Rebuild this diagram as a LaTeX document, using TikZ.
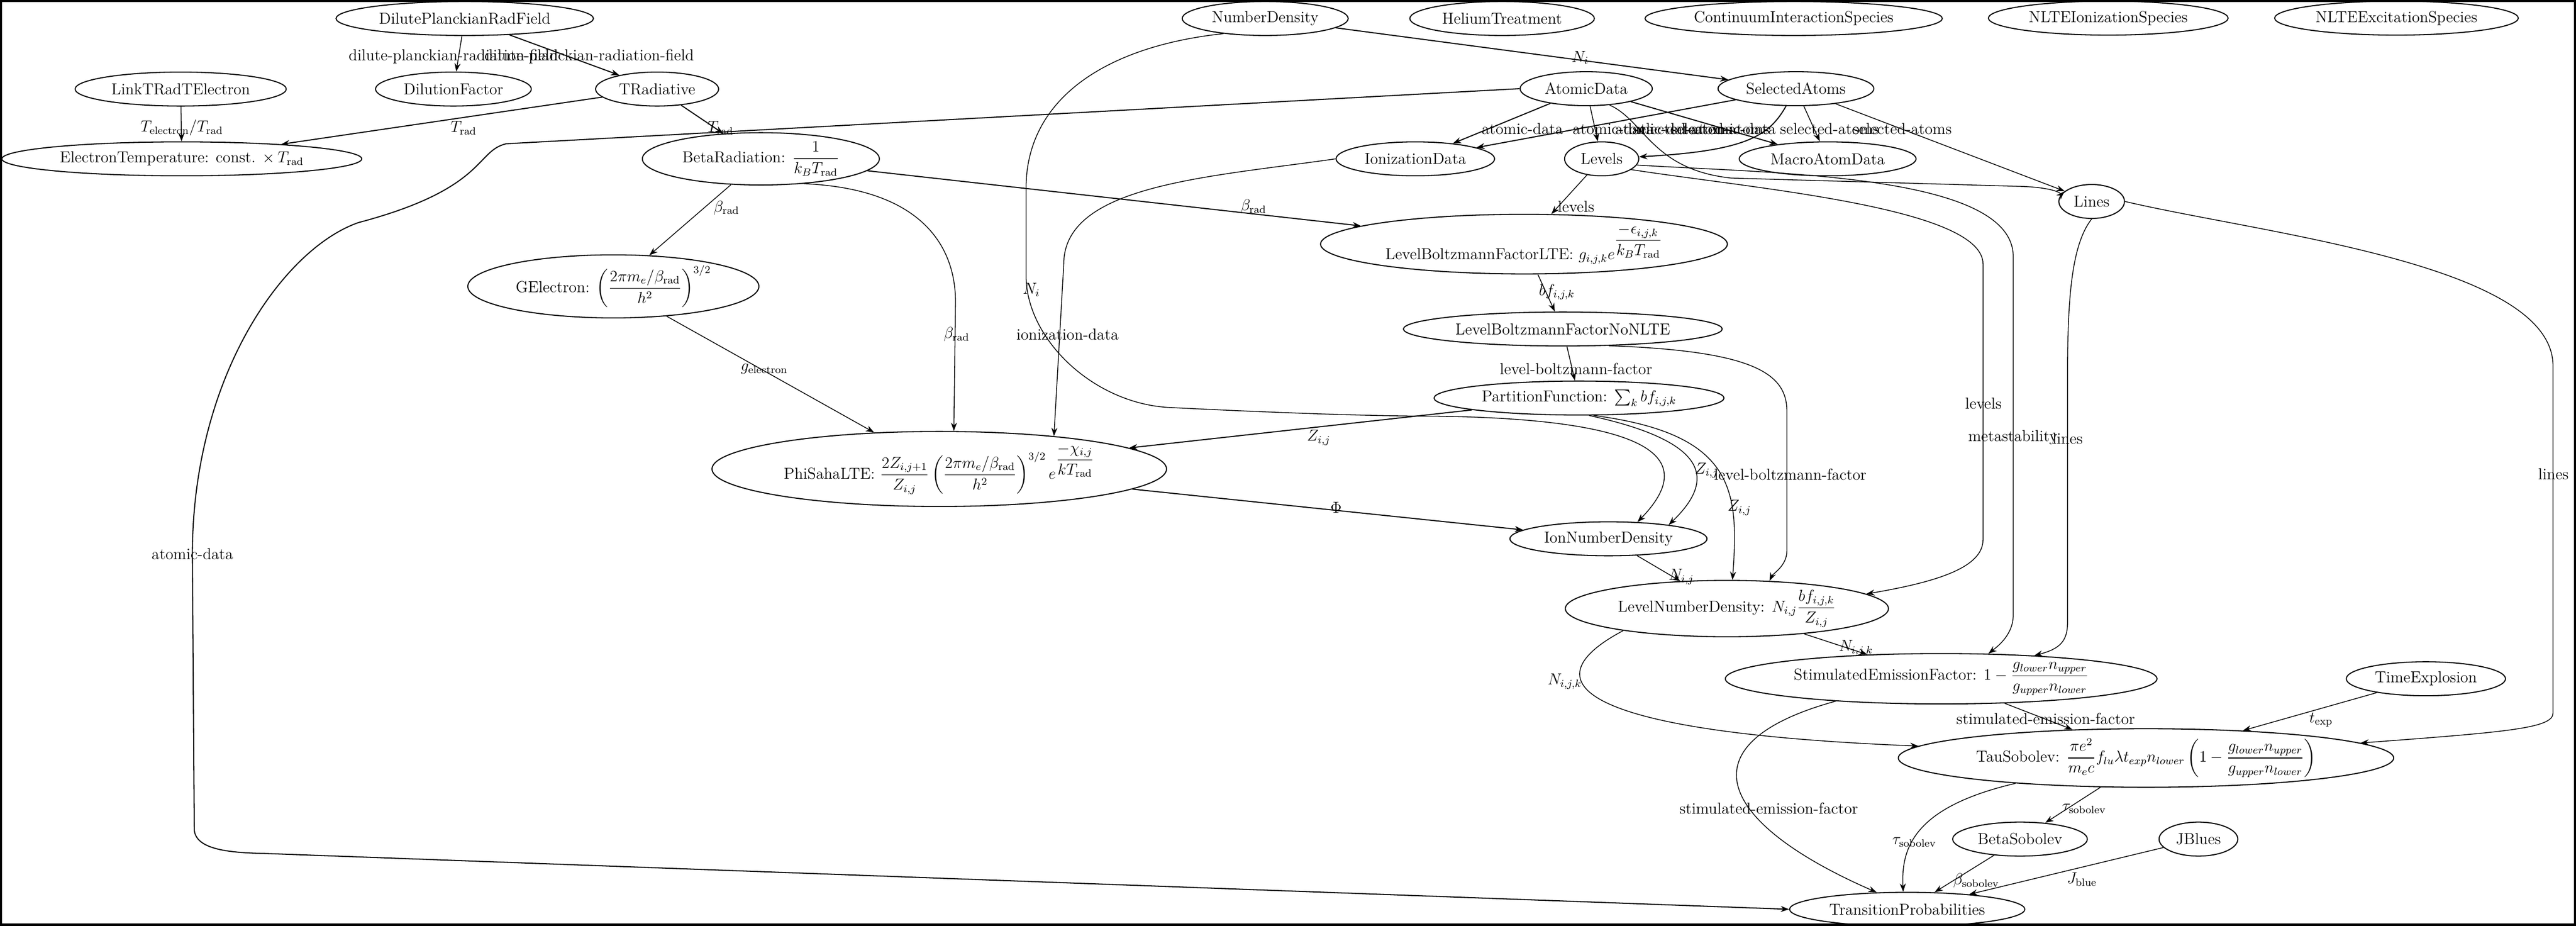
\documentclass[tikz,border=0pt]{standalone}
\usepackage{amsmath}
\usetikzlibrary{shapes.geometric,arrows.meta}
\begin{document}
\begin{tikzpicture}[font=\large,
  n/.style={ellipse,draw,line width=0.8pt,inner xsep=4pt,inner ysep=1pt,minimum height=0.9cm},
  e/.style={-{Stealth[length=2.2mm,width=1.6mm]},line width=0.8pt},
  t/.style={e,line width=0.6pt},
  lab/.style={inner sep=1pt}]
\useasboundingbox (0,0) rectangle (68.29,-24.53);
\draw[line width=3pt] (0,0) rectangle (68.29,-24.53);
% nodes
\node[n] (DPRF) at (12.32,-0.49) {DilutePlanckianRadField};
\node[n] (ND) at (33.54,-0.49) {NumberDensity};
\node[n] (HT) at (39.82,-0.49) {HeliumTreatment};
\node[n] (CIS) at (47.55,-0.49) {ContinuumInteractionSpecies};
\node[n] (NIS) at (55.89,-0.48) {NLTEIonizationSpecies};
\node[n] (NES) at (63.53,-0.48) {NLTEExcitationSpecies};
\node[n] (LTRTE) at (4.79,-2.36) {LinkTRadTElectron};
\node[n] (DF) at (12.02,-2.36) {DilutionFactor};
\node[n] (TR) at (17.42,-2.36) {TRadiative};
\node[n] (AD) at (42.05,-2.35) {AtomicData};
\node[n] (SA) at (47.61,-2.35) {SelectedAtoms};
\node[n] (ET) at (4.82,-4.21) {ElectronTemperature: const. $\times\, T_{\rm rad}$};
\node[n] (BR) at (20.17,-4.21) {BetaRadiation: $\dfrac{1}{k_BT_{\rm rad}}$};
\node[n] (ID) at (37.52,-4.21) {IonizationData};
\node[n] (LV) at (42.46,-4.21) {Levels};
\node[n] (MAD) at (48.45,-4.21) {MacroAtomData};
\node[n] (LN) at (55.45,-5.34) {Lines};
\node[n] (LBL) at (40.40,-6.47) {LevelBoltzmannFactorLTE: $g_{i,j,k}e^{\displaystyle\frac{-\epsilon_{i,j,k}}{k_BT_{\rm rad}}}$};
\node[n] (GE) at (16.26,-7.59) {GElectron: $\left(\dfrac{2\pi m_e/\beta_{\rm rad}}{h^2}\right)^{3/2}$};
\node[n] (LBN) at (41.43,-8.72) {LevelBoltzmannFactorNoNLTE};
\node[n] (PF) at (41.86,-10.55) {PartitionFunction: $\sum_k bf_{i,j,k}$};
\node[n] (PSL) at (24.90,-12.43) {PhiSahaLTE: $\dfrac{2Z_{i,j+1}}{Z_{i,j}}\left(\dfrac{2\pi m_e/\beta_{\rm rad}}{h^2}\right)^{3/2}e^{\displaystyle\frac{-\chi_{i,j}}{kT_{\rm rad}}}$};
\node[n] (IND) at (42.64,-14.28) {IonNumberDensity};
\node[n] (LND) at (45.78,-16.13) {LevelNumberDensity: $N_{i,j}\dfrac{bf_{i,j,k}}{Z_{i,j}}$};
\node[n] (SEF) at (51.46,-17.99) {StimulatedEmissionFactor: $1-\dfrac{g_{lower}n_{upper}}{g_{upper}n_{lower}}$};
\node[n] (TE) at (64.31,-17.99) {TimeExplosion};
\node[n] (TS) at (56.89,-20.09) {TauSobolev: $\dfrac{\pi e^2}{m_ec}f_{lu}\lambda t_{exp}n_{lower}\left(1-\dfrac{g_{lower}n_{upper}}{g_{upper}n_{lower}}\right)$};
\node[n] (BS) at (53.55,-22.24) {BetaSobolev};
\node[n] (JB) at (58.28,-22.24) {JBlues};
\node[n] (TP) at (50.56,-24.10) {TransitionProbabilities};
% edges
\draw[t] (DPRF) -- (DF) node[lab,at={(12.02,-1.50)}] {dilute-planckian-radiation-field};
\draw[e] (DPRF) -- (TR) node[lab,at={(15.62,-1.50)}] {dilute-planckian-radiation-field};
\draw[t] (LTRTE) -- (ET) node[lab,at={(4.82,-3.39)}] {$T_{\rm electron}/T_{\rm rad}$};
\draw[e] (TR) -- (ET) node[lab,at={(12.29,-3.39)}] {$T_{\rm rad}$};
\draw[e] (TR) -- (BR) node[lab,at={(19.10,-3.39)}] {$T_{\rm rad}$};
\draw[e] (ND) -- (SA) node[lab,at={(41.89,-1.53)}] {$N_i$};
\draw[e] (AD.west) -- (13.42,-3.81) .. controls (12.6,-4.0) and (12.9,-5.0) .. (9.5,-5.9)
  .. controls (7.5,-6.6) and (5.1,-10) .. (5.1,-14.7) -- (5.15,-22.0)
  .. controls (5.2,-22.5) and (6,-22.6) .. (7,-22.62) -- (TP.west)
  node[lab,at={(5.10,-14.68)}] {atomic-data};
\draw[e] (AD) -- (ID) node[lab,at={(40.36,-3.42)}] {atomic-data};
\draw[t] (AD) -- (LV) node[lab,at={(42.77,-3.42)}] {atomic-data};
\draw[e] (AD) -- (MAD) node[lab,at={(46.00,-3.42)}] {atomic-data};
\draw[t] (AD.-35) .. controls (43.6,-3.2) and (43.8,-4.5) .. (45.9,-4.72) -- (53.56,-4.94)
  .. controls (54.3,-4.96) and (54.7,-5.1) .. (LN.160) node[lab,at={(43.90,-3.42)}] {atomic-data};
\draw[e] (SA) -- (ID) node[lab,at={(44.60,-3.42)}] {selected-atoms};
\draw[e] (SA) .. controls (46.9,-3.6) and (46.3,-4.0) .. (LV) node[lab,at={(45.60,-3.42)}] {selected-atoms};
\draw[t] (SA) -- (MAD) node[lab,at={(48.50,-3.42)}] {selected-atoms};
\draw[t] (SA) -- (LN) node[lab,at={(50.43,-3.42)}] {selected-atoms};
\draw[t] (BR) -- (GE) node[lab,at={(19.26,-5.51)}] {$\beta_{\rm rad}$};
\draw[e] (BR) -- (LBL) node[lab,at={(33.23,-5.48)}] {$\beta_{\rm rad}$};
\draw[t] (BR.-30) .. controls (24.4,-5.0) and (25.33,-6.5) .. (25.33,-8) -- (PSL.69)
  node[lab,at={(25.36,-8.86)}] {$\beta_{\rm rad}$};
\draw[t] (GE) -- (PSL) node[lab,at={(20.26,-9.78)}] {$g_{\rm electron}$};
\draw[t] (ID.west) .. controls (32,-4.7) and (28.2,-4.9) .. (28.2,-7) -- (PSL.16)
  node[lab,at={(28.30,-8.86)}] {ionization-data};
\draw[t] (ND.200) .. controls (29.5,-1.2) and (27.2,-2.5) .. (27.2,-5) -- (27.2,-7.3)
  .. controls (27.2,-9) and (29,-10.7) .. (31,-10.8) .. controls (33,-10.9) and (36,-11.03) .. (38,-11.03)
  .. controls (44,-11.1) and (45,-12.2) .. (IND.30) node[lab,at={(27.34,-7.68)}] {$N_i$};
\draw[t] (LV) -- (LBL) node[lab,at={(41.78,-5.48)}] {levels};
\draw[t] (LBL) -- (LBN) node[lab,at={(41.27,-7.74)}] {$bf_{i,j,k}$};
\draw[t] (LBN) -- (PF) node[lab,at={(41.78,-9.78)}] {level-boltzmann-factor};
\draw[t] (LBN.-20) .. controls (46.5,-9.3) and (47.37,-9.9) .. (47.37,-10.9) -- (47.37,-14.6)
  .. controls (47.37,-15) and (47.0,-15.2) .. (LND.33) node[lab,at={(47.46,-12.57)}] {level-boltzmann-factor};
\draw[e] (PF) -- (PSL) node[lab,at={(34.96,-11.60)}] {$Z_{i,j}$};
\draw[t] (PF.-60) .. controls (45.3,-11.7) and (45.5,-12.7) .. (IND.13) node[lab,at={(45.24,-12.47)}] {$Z_{i,j}$};
\draw[t] (PF.-50) .. controls (46,-11.5) and (46.1,-13) .. (LND.79) node[lab,at={(46.11,-13.46)}] {$Z_{i,j}$};
\draw[e] (PSL) -- (IND) node[lab,at={(35.42,-13.45)}] {$\Phi$};
\draw[t] (IND) -- (LND) node[lab,at={(44.57,-15.29)}] {$N_{i,j}$};
\draw[t] (LV.-20) .. controls (46.5,-5.0) and (52.57,-5.5) .. (52.57,-7) -- (52.57,-14.3)
  .. controls (52.57,-15) and (51.5,-15.4) .. (LND.6) node[lab,at={(52.58,-10.70)}] {levels};
\draw[t] (LV.-10) .. controls (47,-4.6) and (53.37,-4.6) .. (53.37,-6.8) -- (53.37,-16.3)
  .. controls (53.37,-16.8) and (53.0,-17.1) .. (SEF.28) node[lab,at={(53.36,-11.59)}] {metastability};
\draw[t] (LN.south) .. controls (54.9,-6.5) and (54.81,-8) .. (54.81,-10) -- (54.81,-16.5)
  .. controls (54.81,-17) and (54.6,-17.2) .. (SEF.14) node[lab,at={(54.81,-11.62)}] {lines};
\draw[t] (LN.east) .. controls (60,-6.2) and (67.68,-7) .. (67.68,-9.7) -- (67.68,-18.9)
  .. controls (67.68,-19.3) and (66.5,-19.4) .. (TS.4) node[lab,at={(67.69,-12.57)}] {lines};
\draw[t] (LND) -- (SEF) node[lab,at={(49.20,-17.17)}] {$N_{i,j,k}$};
\draw[t] (LND.192) .. controls (40.6,-18.0) and (41.5,-19.4) .. (TS.177) node[lab,at={(41.48,-18.06)}] {$N_{i,j,k}$};
\draw[t] (SEF) -- (TS) node[lab,at={(54.23,-19.05)}] {stimulated-emission-factor};
\draw[t] (SEF.192) .. controls (44.6,-19.7) and (45.5,-21.8) .. (TP.151) node[lab,at={(46.89,-21.43)}] {stimulated-emission-factor};
\draw[t] (TE) -- (TS) node[lab,at={(61.53,-19.08)}] {$t_{\rm exp}$};
\draw[t] (TS) -- (BS) node[lab,at={(55.25,-21.43)}] {$\tau_{\rm sobolev}$};
\draw[t] (TS.191) .. controls (50.7,-21.4) and (50.4,-22.5) .. (TP.103) node[lab,at={(50.75,-22.32)}] {$\tau_{\rm sobolev}$};
\draw[t] (BS) -- (TP) node[lab,at={(52.39,-23.34)}] {$\beta_{\rm sobolev}$};
\draw[t] (JB) -- (TP) node[lab,at={(55.19,-23.31)}] {$J_{\rm blue}$};
\end{tikzpicture}
\end{document}
